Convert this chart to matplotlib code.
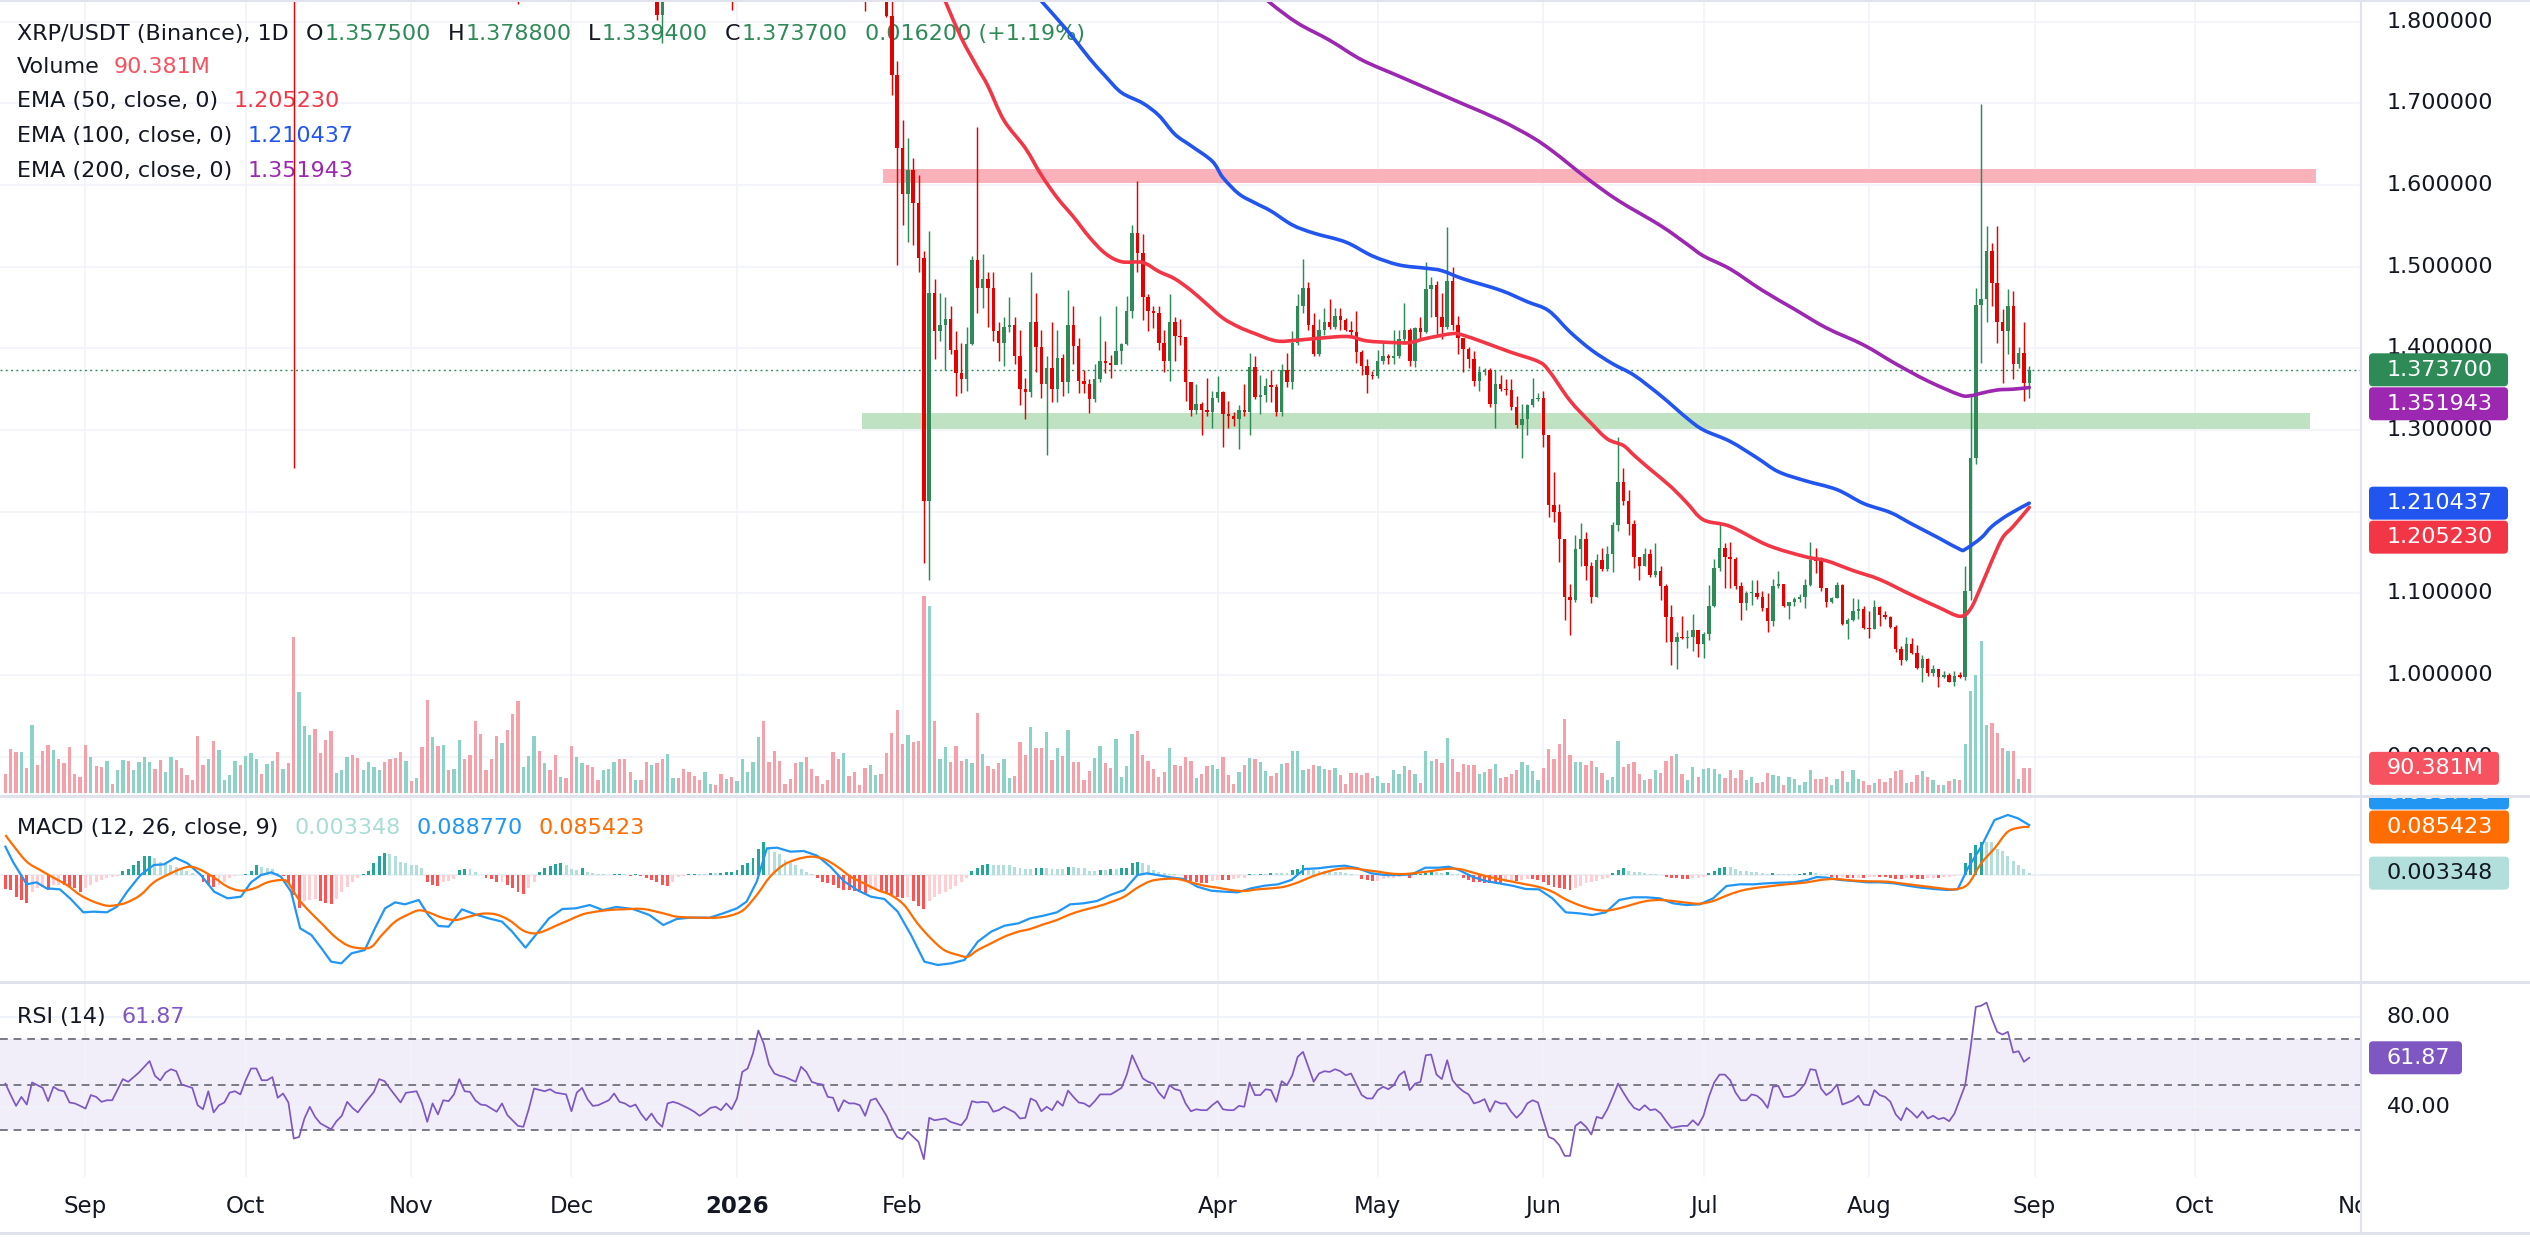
import datetime as dt
import numpy as np
import matplotlib
matplotlib.use("Agg")
import matplotlib.pyplot as plt
import matplotlib.dates as mdates
from matplotlib.patches import Rectangle, FancyBboxPatch, PathPatch
from matplotlib.path import Path
from matplotlib.lines import Line2D

plt.rcParams['font.family'] = ['DejaVu Sans']

# ============================ DATA ============================
BASE_DATE = dt.date(2025, 9, 1)          # day 0 for indicator samples (day offsets)

# ---- daily candles (visible part), open = previous close ----
CANDLE_START = dt.date(2026, 1, 29)
FIRST_OPEN = 1.875
close_jan = [1.807, 1.734, 1.645]
high_jan = [1.890, 1.840, 1.752]
low_jan = [1.805, 1.710, 1.502]
close_feb = [1.589, 1.618, 1.578, 1.511, 1.213, 1.468, 1.421, 1.429, 1.436, 1.398, 1.370, 1.362, 1.405, 1.508,
             1.474, 1.485, 1.474, 1.421, 1.407, 1.426, 1.429, 1.391, 1.350, 1.347, 1.432, 1.401, 1.356, 1.376]
high_feb = [1.679, 1.657, 1.633, 1.612, 1.519, 1.544, 1.485, 1.468, 1.463, 1.452, 1.421, 1.407, 1.426, 1.513,
            1.671, 1.516, 1.494, 1.494, 1.432, 1.438, 1.463, 1.438, 1.423, 1.364, 1.493, 1.468, 1.423, 1.391]
low_feb = [1.551, 1.530, 1.527, 1.494, 1.137, 1.116, 1.387, 1.409, 1.373, 1.393, 1.342, 1.345, 1.348, 1.404,
           1.443, 1.449, 1.426, 1.409, 1.384, 1.378, 1.420, 1.381, 1.331, 1.313, 1.341, 1.371, 1.339, 1.269]
close_mar = [1.350, 1.388, 1.359, 1.429, 1.403, 1.360, 1.356, 1.338, 1.362, 1.384, 1.382, 1.379, 1.397, 1.405,
             1.446, 1.541, 1.517, 1.463, 1.446, 1.443, 1.407, 1.384, 1.432, 1.415, 1.414, 1.359, 1.324, 1.332,
             1.324, 1.322, 1.339]
high_mar = [1.432, 1.422, 1.393, 1.471, 1.452, 1.412, 1.373, 1.362, 1.381, 1.440, 1.409, 1.392, 1.452, 1.407,
            1.464, 1.551, 1.605, 1.540, 1.466, 1.452, 1.452, 1.423, 1.466, 1.438, 1.436, 1.412, 1.359, 1.356,
            1.334, 1.364, 1.348]
low_mar = [1.334, 1.334, 1.342, 1.345, 1.381, 1.345, 1.345, 1.321, 1.334, 1.359, 1.370, 1.364, 1.382, 1.381,
           1.404, 1.437, 1.494, 1.435, 1.421, 1.425, 1.398, 1.371, 1.360, 1.384, 1.404, 1.336, 1.317, 1.319,
           1.294, 1.317, 1.303]
close_apr = [1.346, 1.319, 1.317, 1.314, 1.325, 1.322, 1.377, 1.341, 1.343, 1.354, 1.353, 1.322, 1.373, 1.359,
             1.407, 1.452, 1.474, 1.429, 1.393, 1.423, 1.432, 1.426, 1.439, 1.435, 1.422, 1.420, 1.395, 1.378,
             1.367, 1.366]
high_apr = [1.366, 1.348, 1.335, 1.322, 1.331, 1.356, 1.394, 1.390, 1.367, 1.364, 1.373, 1.356, 1.381, 1.394,
            1.421, 1.466, 1.509, 1.481, 1.443, 1.436, 1.449, 1.460, 1.449, 1.449, 1.437, 1.434, 1.446, 1.398,
            1.387, 1.372]
low_apr = [1.334, 1.279, 1.303, 1.305, 1.277, 1.317, 1.294, 1.338, 1.319, 1.334, 1.334, 1.317, 1.317, 1.353,
           1.350, 1.404, 1.443, 1.423, 1.390, 1.390, 1.416, 1.424, 1.424, 1.422, 1.421, 1.416, 1.382, 1.367,
           1.345, 1.362]
close_may = [1.384, 1.391, 1.388, 1.391, 1.411, 1.423, 1.384, 1.425, 1.420, 1.472, 1.477, 1.438, 1.426, 1.482,
             1.429, 1.412, 1.399, 1.387, 1.360, 1.371, 1.373, 1.332, 1.356, 1.350, 1.349, 1.328, 1.306, 1.314,
             1.330, 1.338, 1.339]
high_may = [1.398, 1.409, 1.393, 1.422, 1.422, 1.455, 1.425, 1.426, 1.438, 1.506, 1.487, 1.482, 1.468, 1.549,
            1.499, 1.439, 1.412, 1.401, 1.397, 1.378, 1.376, 1.376, 1.373, 1.367, 1.363, 1.363, 1.342, 1.332,
            1.332, 1.364, 1.345]
low_may = [1.364, 1.381, 1.381, 1.381, 1.388, 1.405, 1.378, 1.377, 1.412, 1.419, 1.438, 1.418, 1.411, 1.424,
           1.423, 1.393, 1.371, 1.376, 1.354, 1.348, 1.367, 1.328, 1.302, 1.348, 1.343, 1.325, 1.303, 1.266,
           1.294, 1.328, 1.336]
close_jun = [1.294, 1.208, 1.200, 1.167, 1.095, 1.092, 1.154, 1.167, 1.133, 1.095, 1.141, 1.130, 1.148, 1.184,
             1.236, 1.213, 1.185, 1.144, 1.134, 1.148, 1.122, 1.127, 1.109, 1.071, 1.041, 1.047, 1.045, 1.047,
             1.055, 1.038]
high_jun = [1.348, 1.294, 1.248, 1.210, 1.167, 1.112, 1.171, 1.186, 1.175, 1.139, 1.148, 1.155, 1.158, 1.187,
            1.291, 1.253, 1.227, 1.190, 1.145, 1.155, 1.154, 1.162, 1.133, 1.112, 1.086, 1.053, 1.072, 1.055,
            1.075, 1.055]
low_jun = [1.279, 1.193, 1.187, 1.138, 1.067, 1.049, 1.089, 1.134, 1.116, 1.088, 1.095, 1.127, 1.128, 1.126,
           1.176, 1.208, 1.171, 1.131, 1.117, 1.133, 1.120, 1.120, 1.092, 1.040, 1.012, 1.008, 1.044, 1.033,
           1.030, 1.022]
close_jul = [1.050, 1.085, 1.131, 1.155, 1.145, 1.142, 1.109, 1.088, 1.100, 1.101, 1.095, 1.082, 1.066, 1.109,
             1.112, 1.085, 1.089, 1.093, 1.096, 1.110, 1.141, 1.140, 1.106, 1.089, 1.094, 1.110, 1.062, 1.067,
             1.079, 1.081, 1.058]
high_jul = [1.053, 1.110, 1.142, 1.185, 1.162, 1.163, 1.145, 1.114, 1.103, 1.116, 1.116, 1.103, 1.101, 1.118,
            1.128, 1.112, 1.090, 1.096, 1.099, 1.118, 1.163, 1.156, 1.145, 1.106, 1.096, 1.114, 1.112, 1.070,
            1.094, 1.093, 1.085]
low_jul = [1.021, 1.043, 1.083, 1.128, 1.107, 1.107, 1.105, 1.068, 1.080, 1.086, 1.093, 1.079, 1.053, 1.060,
           1.107, 1.083, 1.069, 1.085, 1.089, 1.082, 1.109, 1.125, 1.103, 1.083, 1.088, 1.094, 1.061, 1.044,
           1.066, 1.069, 1.057]
close_aug = [1.056, 1.083, 1.073, 1.071, 1.059, 1.032, 1.019, 1.038, 1.027, 1.009, 1.020, 1.002, 1.007, 0.998,
             1.000, 0.992, 0.999, 0.998, 1.103, 1.266, 1.453, 1.460, 1.519, 1.480, 1.432, 1.421, 1.452, 1.381,
             1.394, 1.3575, 1.3737]
high_aug = [1.078, 1.092, 1.085, 1.078, 1.072, 1.061, 1.036, 1.047, 1.045, 1.037, 1.024, 1.021, 1.012, 1.008,
            1.005, 1.002, 1.005, 1.004, 1.134, 1.343, 1.474, 1.699, 1.550, 1.529, 1.550, 1.448, 1.472, 1.470,
            1.401, 1.432, 1.3788]
low_aug = [1.045, 1.056, 1.060, 1.069, 1.058, 1.028, 1.012, 1.017, 1.026, 1.008, 0.991, 0.999, 0.999, 0.985,
           0.996, 0.991, 0.987, 0.996, 0.994, 1.092, 1.258, 1.382, 1.432, 1.452, 1.407, 1.358, 1.393, 1.363,
           1.376, 1.335, 1.3394]

# ---- candles above the visible range (only their lower wicks show) ----
off_dates = ['2025-10-10', '2025-11-21', '2025-12-17', '2025-12-18', '2025-12-31', '2026-01-25']
off_open = [2.83, 1.98, 1.90, 1.808, 1.88, 1.92]
off_high = [2.86, 2.02, 1.93, 1.95, 1.90, 1.93]
off_low = [1.2535, 1.822, 1.802, 1.774, 1.814, 1.813]
off_close = [2.37, 1.94, 1.808, 1.87, 1.84, 1.88]

# ---- volume (millions) ----
VOL_START = dt.date(2025, 8, 17)
vol_early = [70, 159, 149, 149, 90, 247, 102, 152, 175, 157, 124, 108, 166, 70, 58, 175, 131, 99, 94, 116,
             34, 84, 120, 116, 84, 112, 131, 112, 88, 120, 77, 131, 120, 90, 66, 48, 207, 102, 124, 189,
             157, 48, 66, 116, 102, 135, 146, 124, 70, 106, 116, 149, 88, 110, 565, 366, 243, 211, 233, 146,
             193, 225, 74, 84, 131, 139, 128, 84, 113, 95, 84, 113, 124, 128, 149, 117, 45, 55, 167, 337,
             204, 171, 175, 84, 88, 193, 124, 139, 261, 214, 84, 124, 207, 182, 229, 287, 334, 95, 135, 207,
             153, 110, 84, 139, 59, 55, 171, 131, 110, 102, 95, 48, 84, 88, 113, 124, 124, 77, 48, 48,
             113, 102, 110, 124, 142, 55, 55, 88, 77, 63, 48, 77, 34, 30, 70, 52, 59, 45, 124, 77,
             113, 204, 261, 113, 153, 117, 34, 52, 110, 113, 131, 88, 63, 34, 48, 149, 124, 146, 63, 77,
             30, 92, 102, 66, 70, 146, 218, 301, 178]
vol_early_dir = ("rrrgrgrrrg" "rrrrrrgrrg" "rggrggggrr" "ggrrrrrrgr" "ggggrgggrg" "grgrrgggrr"
                 "rrgggrrggg" "grrrrgrgrr" "grgrggrrrr" "rrrgrrrggg" "rgrrgrrggr" "rrgggrrrgr"
                 "rgrrggrrrr" "rggrrgrggg" "ggrrrrrrrg" "rrrrrrrgrr" "rrggrrrrr")
vol_feb = [211, 186, 189, 713, 677, 261, 124, 167, 113, 171, 117, 124, 110, 290, 142, 99, 88, 110, 124, 55,
           63, 187, 139, 241, 163, 165, 222]
vol_mar = [120, 165, 135, 229, 114, 112, 48, 81, 127, 171, 108, 90, 196, 59, 99, 214, 225, 140, 117, 88,
           59, 77, 164, 102, 99, 131, 117, 55, 70, 99, 102]
vol_apr = [88, 131, 66, 34, 77, 102, 128, 124, 113, 81, 63, 74, 106, 108, 153, 153, 84, 88, 102, 99,
           88, 84, 92, 66, 34, 74, 74, 66, 74, 55]
vol_may = [63, 37, 36, 84, 70, 99, 84, 70, 37, 153, 117, 124, 110, 200, 124, 77, 106, 102, 102, 70,
           77, 88, 106, 55, 59, 70, 84, 113, 102, 81, 48]
vol_jun = [92, 160, 124, 178, 269, 139, 113, 113, 102, 117, 95, 74, 48, 59, 189, 95, 106, 113, 70, 48,
           52, 84, 74, 117, 135, 142, 70, 48, 95, 59]
vol_jul = [88, 92, 88, 70, 55, 84, 55, 84, 48, 59, 37, 41, 74, 66, 63, 30, 59, 52, 30, 41,
           84, 52, 52, 59, 30, 52, 81, 41, 84, 52, 45]
vol_aug = [30, 37, 52, 41, 55, 81, 84, 37, 41, 66, 81, 59, 48, 30, 30, 45, 52, 48, 178, 370,
           428, 551, 247, 254, 218, 164, 153, 153, 52, 90, 90.381]
VOL_LAST_DOWN = True   # last volume bar shown in the down colour

# ---- EMA lines (sampled) ----
ema50_dates = ['2026-02-06', '2026-02-09', '2026-02-12', '2026-02-15', '2026-02-17', '2026-02-20', '2026-02-24',
               '2026-02-27', '2026-03-02', '2026-03-05', '2026-03-08', '2026-03-11', '2026-03-14', '2026-03-18',
               '2026-03-21', '2026-03-24', '2026-03-27', '2026-03-30', '2026-04-02', '2026-04-05', '2026-04-08',
               '2026-04-12', '2026-04-16', '2026-04-23', '2026-04-26', '2026-04-29', '2026-05-04', '2026-05-07',
               '2026-05-10', '2026-05-15', '2026-05-17', '2026-05-21', '2026-05-26', '2026-05-31', '2026-06-02',
               '2026-06-06', '2026-06-10', '2026-06-13', '2026-06-16', '2026-06-18', '2026-06-21', '2026-06-25',
               '2026-06-28', '2026-07-01', '2026-07-06', '2026-07-13', '2026-07-20', '2026-07-24', '2026-07-29',
               '2026-08-03', '2026-08-09', '2026-08-14', '2026-08-18', '2026-08-20', '2026-08-22', '2026-08-24',
               '2026-08-26', '2026-08-28', '2026-08-31']
ema50_vals = [1.870, 1.825, 1.780, 1.744, 1.721, 1.679, 1.645, 1.612, 1.584, 1.561, 1.536, 1.516, 1.506, 1.505,
              1.494, 1.485, 1.471, 1.454, 1.437, 1.426, 1.418, 1.409, 1.410, 1.414, 1.414, 1.409, 1.407, 1.407,
              1.412, 1.418, 1.416, 1.407, 1.395, 1.384, 1.373, 1.336, 1.308, 1.289, 1.281, 1.269, 1.252, 1.230,
              1.210, 1.190, 1.182, 1.159, 1.145, 1.140, 1.128, 1.117, 1.098, 1.083, 1.072, 1.081, 1.109, 1.140,
              1.168, 1.182, 1.205230]
ema100_dates = ['2026-02-25', '2026-02-27', '2026-03-02', '2026-03-05', '2026-03-08', '2026-03-11', '2026-03-14',
                '2026-03-18', '2026-03-21', '2026-03-24', '2026-03-27', '2026-03-31', '2026-04-02', '2026-04-05',
                '2026-04-08', '2026-04-11', '2026-04-15', '2026-04-19', '2026-04-25', '2026-04-30', '2026-05-05',
                '2026-05-10', '2026-05-13', '2026-05-17', '2026-05-24', '2026-05-29', '2026-06-02', '2026-06-06',
                '2026-06-10', '2026-06-14', '2026-06-18', '2026-06-23', '2026-06-28', '2026-07-01', '2026-07-06',
                '2026-07-11', '2026-07-15', '2026-07-20', '2026-07-26', '2026-07-31', '2026-08-05', '2026-08-09',
                '2026-08-14', '2026-08-18', '2026-08-19', '2026-08-22', '2026-08-24', '2026-08-27', '2026-08-31']
ema100_vals = [1.840, 1.825, 1.803, 1.780, 1.755, 1.733, 1.713, 1.700, 1.685, 1.662, 1.648, 1.629, 1.609, 1.589,
               1.578, 1.568, 1.551, 1.541, 1.530, 1.513, 1.502, 1.498, 1.495, 1.485, 1.471, 1.457, 1.446, 1.420,
               1.398, 1.381, 1.367, 1.342, 1.314, 1.300, 1.286, 1.266, 1.249, 1.238, 1.227, 1.210, 1.199, 1.185,
               1.168, 1.154, 1.154, 1.168, 1.182, 1.196, 1.210437]
ema200_dates = ['2026-04-08', '2026-04-11', '2026-04-16', '2026-04-22', '2026-04-28', '2026-05-05', '2026-05-11',
                '2026-05-17', '2026-05-24', '2026-05-30', '2026-06-03', '2026-06-09', '2026-06-15', '2026-06-23',
                '2026-06-28', '2026-07-01', '2026-07-06', '2026-07-12', '2026-07-18', '2026-07-24', '2026-07-31',
                '2026-08-06', '2026-08-12', '2026-08-18', '2026-08-20', '2026-08-22', '2026-08-25', '2026-08-28',
                '2026-08-31']
ema200_vals = [1.840, 1.822, 1.798, 1.777, 1.753, 1.733, 1.716, 1.699, 1.679, 1.658, 1.640, 1.609, 1.581, 1.550,
               1.527, 1.513, 1.497, 1.471, 1.448, 1.425, 1.404, 1.381, 1.360, 1.343, 1.342, 1.345, 1.349, 1.350,
               1.351943]

# ---- horizontal zones ----
zone_res = ('2026-01-28T07:00', '2026-10-23T17:00', 1.602, 1.619)
zone_sup = ('2026-01-24T10:00', '2026-10-22T14:00', 1.301, 1.321)
LAST_PRICE = 1.3737

# ---- MACD (x1000), day offsets from BASE_DATE ----
macd_day = [-15, -13.6, -11.0, -9.2, -7.3, -4.8, -2.9, -0.4, 1.5, 4.0, 5.9, 7.8, 10.3, 12.8, 14.7, 16.8, 19.1,
            21.6, 24.1, 26.6, 29.1, 31.0, 32.9, 34.8, 36.6, 38.5, 40.2, 42.3, 44.2, 46.0, 47.9, 49.8, 52.3, 54.2,
            56.1, 58.0, 59.8, 62.4, 64.2, 66.1, 68.0, 70.5, 73.0, 75.5, 78.0, 79.9, 82.4, 84.3, 86.8, 89.3, 91.8,
            94.4, 96.9, 99.4, 102.5, 105.6, 108.2, 110.7, 113.2, 116.9, 119.4, 122.0, 123.8, 125.7, 127.6, 129.5,
            132.0, 134.5, 137.0, 139.5, 142.0, 144.5, 147.1, 149.6, 152.1, 154.6, 157.1, 159.6, 162.1, 164.6,
            167.1, 169.6, 172.1, 174.7, 176.9, 179.4, 181.9, 184.4, 186.9, 189.4, 191.9, 194.5, 197.0, 198.8,
            200.7, 203.2, 205.7, 208.2, 210.8, 213.3, 215.8, 218.3, 220.8, 223.3, 225.8, 228.3, 230.8, 233.3,
            235.8, 238.3, 240.8, 243.4, 245.9, 248.4, 250.9, 253.4, 255.3, 257.2, 259.7, 262.2, 264.7, 267.2,
            269.7, 272.2, 274.7, 277.2, 279.7, 282.2, 284.7, 287.2, 289.8, 292.3, 294.8, 297.3, 299.8, 302.3,
            304.8, 307.3, 309.8, 312.3, 314.8, 317.3, 319.9, 322.4, 324.2, 326.1, 328.6, 331.1, 333.6, 336.1,
            338.7, 341.2, 343.7, 346.2, 348.7, 350.6, 352.5, 355.0, 357.5, 360.0, 361.9, 364.0]
macd_val = [50.4, 23.7, -16.6, -13.0, -23.7, -25.5, -41.5, -66.4, -65.2, -66.4, -56.3, -29.7, 0.0, 17.8, 19.0,
            30.8, 20.8, 0.0, -29.7, -41.5, -38.6, -13.0, 0.0, 4.7, -3.0, -29.7, -94.9, -106.8, -130.5, -154.2,
            -157.2, -139.4, -133.5, -94.9, -59.3, -48.6, -52.2, -44.5, -71.2, -90.7, -91.9, -61.1, -70.0, -77.1,
            -83.0, -100.8, -129.3, -106.8, -77.1, -60.5, -59.3, -53.4, -62.3, -56.9, -60.5, -71.2, -89.0, -78.3,
            -75.9, -75.9, -68.2, -59.3, -47.4, -11.9, 47.4, 48.6, 41.5, 42.7, 34.4, 14.8, -10.7, -26.7, -38.6,
            -42.7, -65.2, -106.8, -154.2, -160.1, -157.2, -151.2, -118.6, -100.8, -90.2, -86.0, -77.1, -72.4,
            -66.4, -52.2, -50.4, -46.3, -35.6, -26.7, 0.0, 3.0, 0.0, -4.2, -7.1, -20.8, -27.9, -29.7, -30.8,
            -23.7, -19.0, -16.6, -8.9, 10.7, 11.9, 14.8, 16.6, 11.9, 3.0, 0.0, 0.0, 1.2, 13.0, 13.0, 14.8, 8.9,
            -3.0, -10.7, -14.8, -19.0, -24.9, -25.5, -41.5, -66.4, -68.2, -71.2, -66.4, -44.5, -39.7, -39.7,
            -41.5, -50.4, -53.4, -52.2, -41.5, -19.6, -16.6, -16.6, -14.8, -13.6, -13.0, -8.9, -3.6, -4.7, -8.9,
            -10.7, -13.0, -13.0, -14.8, -19.0, -22.5, -24.9, -26.7, -25.5, 11.9, 50.4, 97.9, 106.8, 100.8, 88.770]
signal_day = [-15, -13.6, -11.0, -8.5, -6.0, -3.5, -1.0, 1.5, 4.0, 5.9, 7.8, 10.3, 12.8, 15.3, 17.8, 19.7, 21.6,
              24.1, 26.6, 29.1, 31.6, 34.1, 36.6, 37.9, 39.8, 41.7, 44.2, 46.7, 49.2, 51.7, 53.6, 55.5, 58.0, 60.5,
              62.4, 64.2, 66.8, 69.3, 71.8, 74.3, 76.8, 79.3, 81.8, 83.7, 85.6, 88.1, 90.6, 93.1, 95.6, 98.1,
              100.6, 104.4, 108.2, 110.7, 114.4, 118.2, 120.7, 123.2, 125.7, 128.2, 130.7, 133.2, 135.8, 138.3,
              140.8, 143.3, 145.8, 148.3, 150.8, 153.3, 155.8, 158.3, 160.8, 163.4, 165.2, 167.1, 169.6, 172.1,
              174.7, 176.9, 179.4, 181.9, 184.4, 186.9, 189.4, 191.9, 194.5, 197.0, 199.5, 202.0, 204.5, 207.0,
              209.5, 212.0, 214.5, 217.0, 219.5, 222.0, 224.5, 227.1, 229.6, 232.1, 234.6, 237.1, 239.6, 242.1,
              244.6, 247.1, 249.6, 252.1, 254.6, 257.2, 259.7, 262.2, 264.7, 267.2, 269.7, 272.2, 274.7, 277.2,
              279.7, 282.2, 284.7, 287.2, 289.8, 292.3, 294.8, 297.3, 299.8, 302.3, 304.8, 307.3, 309.8, 312.3,
              314.8, 317.3, 319.9, 322.4, 324.9, 327.4, 329.9, 332.4, 334.9, 337.4, 339.9, 342.4, 345.0, 347.5,
              350.0, 352.5, 355.0, 357.5, 360.0, 362.5, 364.0]
signal_val = [71.2, 53.4, 23.7, 8.9, -4.7, -17.8, -35.6, -47.4, -54.6, -53.4, -48.6, -35.6, -13.0, 0.0, 10.7,
              14.8, 8.9, -4.7, -20.8, -27.9, -23.7, -13.0, -8.9, -13.0, -41.5, -62.3, -86.0, -109.7, -125.7,
              -130.5, -127.5, -106.8, -83.0, -70.0, -62.9, -66.4, -75.9, -80.1, -74.1, -68.8, -70.0, -80.1, -97.9,
              -103.8, -100.8, -90.2, -80.1, -70.0, -65.2, -62.3, -61.1, -60.5, -68.2, -74.1, -75.9, -75.9, -72.4,
              -62.3, -35.6, -3.0, 17.8, 27.9, 32.6, 28.5, 14.8, -3.0, -14.8, -26.7, -35.6, -53.4, -86.0, -112.7,
              -133.5, -142.3, -145.3, -133.5, -121.6, -109.7, -100.8, -96.1, -87.8, -80.1, -70.0, -62.3, -56.3,
              -48.6, -38.6, -22.5, -10.7, -7.1, -7.1, -13.0, -19.0, -22.5, -26.7, -28.5, -25.5, -23.7, -20.8,
              -13.0, -3.0, 4.7, 10.7, 11.9, 8.9, 5.9, 2.4, 1.8, 4.2, 7.1, 10.7, 10.7, 4.7, -1.8, -7.1, -11.9,
              -16.6, -21.4, -29.7, -43.3, -53.4, -60.5, -63.5, -59.3, -52.2, -46.3, -44.5, -46.3, -49.2, -51.0,
              -46.3, -36.8, -28.5, -23.7, -20.8, -17.8, -15.4, -13.0, -8.9, -7.1, -8.9, -10.7, -11.3, -11.9,
              -14.8, -17.8, -20.8, -23.7, -25.5, -16.6, 20.8, 47.4, 77.1, 84.8, 85.423]
# histogram (x1000): runs of daily values, each run starts at a day offset
hist_runs = [
    (-15, [-25, -27, -39, -45, -50, -30, -24, -21, -27, -18, -17, -18, -21, -24, -30, -24, -18, -13, -9, -6, -3, -1]),
    (7, [7, 11, 18, 25, 33, 34, 31, 24, 21, 18, 15, 12, 7, 3, 0]),
    (22, [-13, -18, -21, -17, -13, -6, -2, 0, 2]),
    (31, [7, 17, 15, 13, 11, 3, -2]),
    (38, [-15, -36, -59, -47, -44, -43, -46, -50, -52, -42, -30, -21, -13, -6]),
    (52, [2, 7, 21, 33, 39, 38, 34, 24, 21, 18, 17, 12]),
    (64, [-13, -17, -19, -13, -11, -7]),
    (70, [9, 11, 11, 5, 0]),
    (75, [-5, -7, -13, -12, -18, -24, -31, -33, -24, -13]),
    (85, [5, 13, 16, 19, 21, 17, 11, 9, 13, 5, 3, 1, 1, 0]),
    (99, [1, 2, 1, -1, 1, -1]),
    (105, [-5, -9, -13, -17, -19, -12, -3, -1, 1, 2, 2]),
    (116, [2, 3, 3, 4, 5, 6, 9, 18, 21, 30, 47, 58, 47, 41, 38, 27, 21, 17, 11, 5, 1]),
    (137, [-6, -13, -15, -18, -24, -27, -27, -28, -30, -34, -27, -25, -30, -34, -36, -39, -41, -39, -47, -56,
           -61, -46, -39, -34, -30, -25, -19, -13, -6]),
    (166, [7, 13, 17, 19, 18, 18, 18, 17, 15, 13, 11, 11, 12, 13, 13]),
    (181, [11, 11, 11, 15, 15, 13, 12, 7, 7, 9, 9, 11, 11, 12, 13, 21, 24, 21, 17, 9, 5, 3, 1, 1, 0]),
    (206, [-9, -11, -13, -15, -15, -11, -9, -9, -9, -7, -6, -5]),
    (218, [1, 1, 2, 2, 4, 4, 4, 4, 9, 11, 17, 11, 9, 7, 7, 6, 6, 5, 4, 2, 0]),
    (239, [-7, -9, -11, -10, -7, -6, -5, -4, -2, -5]),
    (249, [1, 2, 4, 5, 5, 4, 5, 2, 1]),
    (258, [-5, -9, -12, -13, -15, -15, -15, -15, -13, -11, -11, -9, -7, -7, -9, -13, -18, -21, -23, -25, -27,
           -24, -19, -15, -13, -11, -7, -5]),
    (286, [3, 9, 12, 8, 6, 5, 4, 2, 1, 0]),
    (296, [-3, -5, -6, -7, -7, -6, -5, -4]),
    (304, [3, 7, 13, 15, 15, 11, 8, 7, 6, 5, 4, 2, 3, 2, 1, 1, 1, 2, 3, 5, 4, 2, 1]),
    (327, [-3, -5, -3, -5, -6, -5, -5, -4, -3, -3, -4, -6, -7, -7, -6, -6, -7, -7, -6, -5, -5, -4, -3, -2, 0]),
    (352, [21, 39, 53, 59, 59, 58, 46, 43, 34, 25, 18, 10, 3.348]),
]

# ---- RSI(14) ----
rsi_early = [(-15, 50.4), (-14, 45.3), (-13, 40.5), (-12, 44.5), (-11, 41.1), (-10, 50.9), (-9, 49.7), (-8, 48.5),
             (-7, 42.6), (-6, 49.0), (-5, 47.5), (-4, 47.0), (-3, 42.0), (-2, 41.6), (-1, 40.5), (0, 39.3),
             (1, 45.3), (2, 44.5), (3, 42.3), (4, 43.0), (5, 43.0), (7, 52.4), (8, 51.2), (10, 55.3), (12, 60.4),
             (13, 53.9), (14, 51.8), (15, 55.3), (16, 56.8), (17, 55.9), (18, 50.0), (20, 48.5), (21, 40.8),
             (22, 39.0), (23, 47.0), (24, 37.6), (25, 40.8), (26, 42.0), (27, 46.4), (28, 47.0), (29, 45.6),
             (30, 51.9), (31, 57.1), (32, 57.1), (33, 51.9), (34, 51.9), (35, 53.3), (36, 44.1), (37, 46.0),
             (38, 42.0), (39, 26.0), (40, 26.7), (41, 34.9), (42, 40.1), (43, 35.6), (44, 32.7), (46, 30.1),
             (47, 33.7), (48, 36.1), (49, 42.3), (50, 39.6), (51, 37.6), (52, 40.8), (54, 46.7), (55, 52.4),
             (56, 51.5), (57, 48.2), (59, 42.0), (60, 46.3), (62, 47.0), (63, 41.6), (64, 33.4), (65, 41.6),
             (66, 36.7), (67, 43.0), (68, 42.6), (69, 45.6), (70, 52.4), (71, 47.0), (72, 46.7), (73, 43.0),
             (74, 41.1), (75, 40.8), (77, 37.9), (78, 41.6), (79, 36.4), (81, 31.6), (82, 31.2), (83, 39.0),
             (84, 48.2), (86, 47.0), (87, 47.9), (88, 46.4), (89, 46.0), (90, 45.6), (91, 38.1), (92, 46.4),
             (93, 48.5), (94, 43.5), (95, 40.5), (96, 40.8), (98, 43.0), (99, 46.0), (100, 42.3), (101, 41.6),
             (102, 40.1), (103, 41.1), (104, 37.1), (105, 34.1), (106, 37.1), (107, 33.4), (108, 31.2),
             (109, 41.6), (110, 42.3), (111, 41.6), (113, 39.3), (114, 37.9), (115, 36.1), (116, 37.6),
             (117, 39.6), (118, 40.1), (119, 38.6), (120, 41.6), (121, 39.0), (122, 43.8), (123, 55.6),
             (124, 57.1), (125, 63.8), (126, 74.0), (127, 68.2), (128, 58.9), (129, 54.9), (130, 53.9),
             (131, 53.3), (133, 51.2), (134, 57.9), (135, 55.6), (136, 51.2), (137, 50.4), (138, 50.0),
             (139, 44.5), (140, 44.1), (141, 38.1), (142, 43.0), (143, 41.6), (144, 41.6), (145, 40.8),
             (146, 36.1), (147, 43.0), (148, 43.8), (150, 36.1), (151, 30.7), (152, 26.7), (153, 25.7),
             (154, 29.0), (156, 24.5), (157, 16.8), (158, 35.2), (159, 34.1), (161, 34.9), (162, 33.4),
             (164, 31.9), (165, 34.9), (166, 42.6), (167, 42.0), (168, 42.3), (169, 42.0), (170, 37.9),
             (171, 38.6), (172, 40.1), (174, 37.6), (175, 34.9), (176, 35.2), (177, 43.8)]
RSI_MID_START = 178
rsi_mid = [42.6, 38.1, 40.1, 38.6, 42.6, 40.5, 47.3, 44.5, 42.0, 41.6, 40.1, 42.6, 45.6, 45.6, 45.6, 47.0, 48.5,
           54.4, 63.0, 57.9, 52.7, 51.2, 50.4, 46.4, 43.8, 49.7, 47.9, 47.3, 41.6, 38.1, 39.0, 38.6, 38.6, 40.8,
           42.6, 39.0, 38.6, 38.6, 40.5, 40.1, 50.9, 45.3, 45.3, 47.9, 47.5, 42.3, 51.5, 49.7, 54.1, 62.3, 64.5,
           57.9, 51.2, 54.9, 55.9, 55.6, 56.8, 55.9, 54.1, 54.9, 50.0, 45.3, 43.8, 43.8, 47.5, 49.0, 47.9, 49.7,
           54.1, 55.9, 47.5, 50.4, 51.2, 63.0, 63.3, 54.4, 52.4, 60.8, 51.9, 49.0, 47.0, 45.6, 41.6, 42.3, 43.5,
           37.9, 42.6, 41.6, 41.6, 37.9, 35.2, 37.6, 41.6, 43.0, 42.0, 34.1, 26.7, 25.7, 23.0, 18.3, 18.3, 31.6,
           33.4, 31.2, 27.8, 35.6, 34.9, 39.0, 44.5, 50.4, 46.4, 42.6, 39.6, 38.6, 40.8, 38.6, 39.0, 37.1, 33.7,
           30.7, 31.2, 31.6, 31.6, 34.1, 31.9, 36.1, 44.5, 50.9, 54.4, 54.4, 51.9, 46.4, 43.0, 43.0, 45.6, 45.0,
           43.0, 39.6, 49.0, 49.4, 44.5, 44.5, 45.3, 47.5, 50.4, 56.8, 56.4, 48.2, 45.3, 47.0, 50.0, 41.1, 42.0,
           43.0, 45.0, 41.1, 40.8, 47.5, 45.3, 44.5, 42.3, 36.7, 34.1, 39.6, 37.6, 35.2, 38.1, 34.9, 36.1, 34.6,
           35.2, 33.7, 37.1]
RSI_END_START = 352
rsi_end = [49.7, 66.0, 84.5, 85.0, 86.4, 79.3, 73.4, 72.2, 73.4, 64.2, 64.8, 60.1, 61.87]

# ---- time axis labels ----
time_labels = [('2025-09-01', 'Sep'), ('2025-10-01', 'Oct'), ('2025-11-01', 'Nov'), ('2025-12-01', 'Dec'),
               ('2026-01-01', '2026'), ('2026-02-01', 'Feb'), ('2026-04-01', 'Apr'), ('2026-05-01', 'May'),
               ('2026-06-01', 'Jun'), ('2026-07-01', 'Jul'), ('2026-08-01', 'Aug'), ('2026-09-01', 'Sep'),
               ('2026-10-01', 'Oct'), ('2026-11-01', 'Nov')]
price_grid = [1.8, 1.7, 1.6, 1.5, 1.4, 1.3, 1.2, 1.1, 1.0, 0.9]
price_tick_labels = [1.8, 1.7, 1.6, 1.5, 1.4, 1.3, 1.1, 1.0, 0.9]   # 1.2 is hidden under the EMA labels
rsi_ticks = [80, 40]

# ============================ STYLE / LAYOUT ============================
W, H = 2530, 1253
K = '#131722'
GREEN = '#2e8b57'
RED = '#e60000'
VOL_UP, VOL_DN = '#8dd2c7', '#f6a1a9'
C50, C100, C200 = '#f23645', '#2255f0', '#9c27b0'
GRID = '#f0f3fa'
SEP = '#e0e3eb'
LEG_FS = 16
AX_FS = 16

PX = 2360
MAIN_Y = (0, 795)
MACD_Y = (797, 981)
RSI_Y = (983, 1177)
TIME_Y = (1177, 1232)
PRICE_LIM = (0.85324, 1.82632)
VOL_LIM = (-6, 2868)
MACD_LIM = (-188.6, 138.8)
RSI_LIM = (8.9, 95.1)
BASE_NUM = mdates.date2num(BASE_DATE)
XLIM = (BASE_NUM - 16.01, BASE_NUM + 425.94)

fig = plt.figure(figsize=(W / 100, H / 100), dpi=100)
fig.patch.set_facecolor('white')


def frac(x0, y0, x1, y1):
    return [x0 / W, 1 - y1 / H, (x1 - x0) / W, (y1 - y0) / H]


def mk(rect, **kw):
    a = fig.add_axes(frac(*rect), **kw)
    a.set_axis_off()
    return a


ax = mk((0, MAIN_Y[0], PX, MAIN_Y[1]))
axv = mk((0, MAIN_Y[0], PX, MAIN_Y[1]), sharex=ax)
axm = mk((0, MACD_Y[0], PX, MACD_Y[1]), sharex=ax)
axr = mk((0, RSI_Y[0], PX, RSI_Y[1]), sharex=ax)
axt = mk((0, TIME_Y[0], PX, TIME_Y[1]), sharex=ax)
r_main = mk((PX, MAIN_Y[0], W, MAIN_Y[1]))
r_macd = mk((PX, MACD_Y[0], W, MACD_Y[1]))
r_rsi = mk((PX, RSI_Y[0], W, RSI_Y[1]))

ax.set_ylim(*PRICE_LIM)
axv.set_ylim(*VOL_LIM)
axm.set_ylim(*MACD_LIM)
axr.set_ylim(*RSI_LIM)
axt.set_ylim(0, 1)
for a, lim in ((r_main, PRICE_LIM), (r_macd, MACD_LIM), (r_rsi, RSI_LIM)):
    a.set_xlim(0, W - PX)
    a.set_ylim(*lim)


def dnum(s):
    return mdates.date2num(np.datetime64(s).astype('datetime64[m]').astype(dt.datetime))


def days(k):
    return BASE_NUM + np.asarray(k, dtype=float)


def smooth_line(a, xs, ys, **kw):
    """Draw a smooth curve through the sampled points (Catmull-Rom drawn as Bezier segments)."""
    P = np.column_stack([xs, ys]).astype(float)
    Pe = np.vstack([P[0], P, P[-1]])
    verts = [P[0]]
    codes = [Path.MOVETO]
    for i in range(1, len(Pe) - 2):
        p0, p1, p2, p3 = Pe[i - 1], Pe[i], Pe[i + 1], Pe[i + 2]
        verts += [p1 + (p2 - p0) / 6.0, p2 - (p3 - p1) / 6.0, p2]
        codes += [Path.CURVE4] * 3
    a.add_patch(PathPatch(Path(verts, codes), facecolor='none', **kw))


# ---- grid ----
grid_x = [dnum(d) for d, _ in time_labels[:-1]]
for a in (ax, axm, axr):
    for gx in grid_x:
        a.axvline(gx, color=GRID, lw=1.1, zorder=0.5)
for p in price_grid:
    ax.axhline(p, color=GRID, lw=1.1, zorder=0.5)
for rv_ in rsi_ticks:
    axr.axhline(rv_, color=GRID, lw=1.4, zorder=0.5)

# ---- zones ----
for (s, e, lo, hi), col in ((zone_res, '#f9b2b9'), (zone_sup, '#bfe3c2')):
    x0, x1 = dnum(s), dnum(e)
    ax.add_patch(Rectangle((x0, lo), x1 - x0, hi - lo, facecolor=col, edgecolor='none', zorder=1))

# ---- candles ----
C = np.array(close_jan + close_feb + close_mar + close_apr + close_may + close_jun + close_jul + close_aug)
Hh = np.array(high_jan + high_feb + high_mar + high_apr + high_may + high_jun + high_jul + high_aug)
L = np.array(low_jan + low_feb + low_mar + low_apr + low_may + low_jun + low_jul + low_aug)
O = np.concatenate([[FIRST_OPEN], C[:-1]])
cx = mdates.date2num([CANDLE_START + dt.timedelta(days=i) for i in range(len(C))])
ox = np.array([dnum(d) for d in off_dates])
allx = np.concatenate([ox, cx])
allO = np.concatenate([off_open, O])
allC = np.concatenate([off_close, C])
allH = np.concatenate([off_high, Hh])
allL = np.concatenate([off_low, L])
up = allC >= allO
ccol = np.where(up, GREEN, RED)
min_body = 1.3 * (PRICE_LIM[1] - PRICE_LIM[0]) / (MAIN_Y[1] - MAIN_Y[0])
ax.vlines(allx, allL, allH, colors=ccol, lw=1.05, zorder=3)
ax.bar(allx, np.maximum(np.abs(allC - allO), min_body), bottom=np.minimum(allO, allC), width=0.64,
       color=ccol, lw=0, zorder=3.2)

# ---- EMA lines ----
for dts, vals, col in ((ema200_dates, ema200_vals, C200), (ema100_dates, ema100_vals, C100),
                       (ema50_dates, ema50_vals, C50)):
    smooth_line(ax, [dnum(d) for d in dts], vals, edgecolor=col, lw=2.6, zorder=4,
                capstyle='round', joinstyle='round')

# ---- last price dotted line ----
ax.axhline(LAST_PRICE, color=GREEN, lw=1.0, ls=(0, (1.4, 2.4)), zorder=2)

# ---- volume ----
vols = np.array(vol_early + vol_feb + vol_mar + vol_apr + vol_may + vol_jun + vol_jul + vol_aug, dtype=float)
vx = mdates.date2num([VOL_START + dt.timedelta(days=i) for i in range(len(vols))])
vcol = [VOL_UP if c == 'g' else VOL_DN for c in vol_early_dir]
late_up = up[len(off_dates) + 4:]           # candles from Feb 2 onward
vcol += [VOL_UP if u else VOL_DN for u in late_up]
if VOL_LAST_DOWN:
    vcol[-1] = VOL_DN
axv.bar(vx, vols, width=0.62, color=vcol[:len(vols)], lw=0, zorder=2)

# ---- MACD pane ----
axm.axhline(0, color='#eceff5', lw=1.3, zorder=0.6)
hx, hv = [], []
for start, vals in hist_runs:
    for i, v in enumerate(vals):
        hx.append(start + i)
        hv.append(v)
hcol = []
prev = 0.0
for v in hv:
    if v >= 0:
        hcol.append('#26a69a' if v > prev else '#b2dfdb')
    else:
        hcol.append('#ffcdd2' if v > prev else '#ff5252')
    prev = v
axm.bar(days(hx), hv, width=0.55, color=hcol, lw=0, zorder=2)
axm.plot(days(macd_day), macd_val, color='#2196f3', lw=1.6, zorder=3)
smooth_line(axm, days(signal_day), signal_val, edgecolor='#ff6d00', lw=1.6, zorder=3.1)

# ---- RSI pane ----
axr.axhspan(30, 70, color='#f1edf9', lw=0, zorder=0.4)
for lvl in (70, 50, 30):
    axr.axhline(lvl, color='#787b86', lw=1.4, ls=(0, (4.0, 3.0)), zorder=1)
rk = [k for k, _ in rsi_early] + list(range(RSI_MID_START, RSI_MID_START + len(rsi_mid))) + \
     list(range(RSI_END_START, RSI_END_START + len(rsi_end)))
rv = [v for _, v in rsi_early] + rsi_mid + rsi_end
axr.plot(days(rk), rv, color='#7e57c2', lw=1.25, zorder=3)

ax.set_xlim(*XLIM)

# ---- time labels ----
for d, lab in time_labels:
    axt.text(dnum(d), 0.455, lab, ha='center', va='center', fontsize=16.5, color=K,
             fontweight='bold' if lab == '2026' else 'normal', clip_on=True)

# ---- right price scale labels ----
for p in price_tick_labels:
    r_main.text(27, p, f"{p:.6f}", ha='left', va='center', fontsize=AX_FS, color=K, zorder=2)
for t in rsi_ticks:
    r_rsi.text(27, t, f"{t:.2f}", ha='left', va='center', fontsize=AX_FS, color=K, zorder=2)


def place_boxes(rax, items, yrange, lim, direction, width=139, box_h=33, gap=1):
    y0, y1 = yrange
    ph = y1 - y0
    vmin, vmax = lim
    v2p = lambda v: y0 + (vmax - v) / (vmax - vmin) * ph
    p2v = lambda p: vmax - (p - y0) / ph * (vmax - vmin)
    per_px = (vmax - vmin) / ph
    order = sorted(items, key=lambda it: -it[0]) if direction == 'down' else sorted(items, key=lambda it: it[0])
    edge = None
    for val, fc, tc, txt in order:
        c = v2p(val)
        if direction == 'down':
            if edge is not None and c - box_h / 2 < edge + gap:
                c = edge + gap + box_h / 2
            edge = c + box_h / 2
        else:
            if edge is not None and c + box_h / 2 > edge - gap:
                c = edge - gap - box_h / 2
            edge = c - box_h / 2
        bottom = p2v(c + box_h / 2)
        rax.add_patch(FancyBboxPatch((9, bottom), width, box_h * per_px,
                                     boxstyle="round,pad=0,rounding_size=4", mutation_aspect=per_px,
                                     facecolor=fc, edgecolor='none', zorder=3))
        rax.text(27, p2v(c), txt, ha='left', va='center', fontsize=AX_FS, color=tc, zorder=4, clip_on=True)


place_boxes(r_main, [(LAST_PRICE, GREEN, 'white', '1.373700'), (1.351943, C200, 'white', '1.351943'),
                     (1.210437, C100, 'white', '1.210437'), (1.205230, C50, 'white', '1.205230')],
            MAIN_Y, PRICE_LIM, 'down')
vol_last = vol_aug[-1]
vol_price = PRICE_LIM[0] + (vol_last - VOL_LIM[0]) / (VOL_LIM[1] - VOL_LIM[0]) * (PRICE_LIM[1] - PRICE_LIM[0])
place_boxes(r_main, [(vol_price, '#f7525f', 'white', '90.381M')], MAIN_Y, PRICE_LIM, 'down', width=130)
place_boxes(r_macd, [(88.770, '#2196f3', 'white', '0.088770'), (85.423, '#ff6d00', 'white', '0.085423'),
                     (3.348, '#b2dfdb', K, '0.003348')], MACD_Y, MACD_LIM, 'up', width=140)
place_boxes(r_rsi, [(61.87, '#7e57c2', 'white', '61.87')], RSI_Y, RSI_LIM, 'down', width=93)

# ---- legends ----
renderer = fig.canvas.get_renderer()


def legend_row(a, x_px, y_px, parts, size=LEG_FS):
    x = x_px
    for txt, col, gap in parts:
        x += gap
        t = a.text(x / W, 1 - y_px / H, txt, transform=fig.transFigure, color=col, fontsize=size,
                   ha='left', va='center', zorder=2.5)
        x = t.get_window_extent(renderer=renderer).x1


legend_row(ax, 17, 34, [("XRP/USDT (Binance), 1D", K, 0), ("O", K, 17), ("1.357500", GREEN, 1),
                        ("H", K, 17), ("1.378800", GREEN, 1), ("L", K, 17), ("1.339400", GREEN, 1),
                        ("C", K, 17), ("1.373700", GREEN, 1), ("0.016200 (+1.19%)", GREEN, 17)])
legend_row(ax, 17, 67, [("Volume", K, 0), ("90.381M", '#f7525f', 14)])
legend_row(ax, 17, 101, [("EMA (50, close, 0)", K, 0), ("1.205230", C50, 15)])
legend_row(ax, 17, 136, [("EMA (100, close, 0)", K, 0), ("1.210437", C100, 15)])
legend_row(ax, 17, 171, [("EMA (200, close, 0)", K, 0), ("1.351943", C200, 15)])
legend_row(axm, 17, 828, [("MACD (12, 26, close, 9)", K, 0), ("0.003348", '#a9ddd6', 16),
                          ("0.088770", '#2196f3', 16), ("0.085423", '#ff6d00', 16)])
legend_row(axr, 17, 1017, [("RSI (14)", K, 0), ("61.87", '#7e57c2', 16)])


# ---- pane separators / borders ----
def hline_px(y, lw_px, x0=0, x1=W):
    fig.add_artist(Line2D([x0 / W, x1 / W], [1 - y / H, 1 - y / H], transform=fig.transFigure,
                          color=SEP, lw=lw_px * 0.72, zorder=10))


hline_px(1.0, 2)
hline_px(796, 3)
hline_px(982, 3)
hline_px(1232.5, 3)
fig.add_artist(Line2D([(PX + 0.5) / W] * 2, [1 - 0 / H, 1 - 1232 / H], transform=fig.transFigure,
                      color=SEP, lw=1.5, zorder=10))

fig.savefig('out.png', dpi=100, facecolor='white')
